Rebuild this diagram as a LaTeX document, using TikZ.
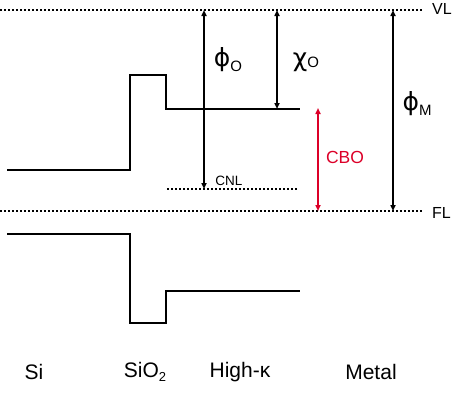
\documentclass[tikz,border=0pt]{standalone}
\usepackage{fontspec}
\setmainfont{Liberation Sans}
\newfontfamily\grk{DejaVu Sans}
\usetikzlibrary{arrows.meta}
\definecolor{cbored}{RGB}{220,0,40}
\begin{document}
\begin{tikzpicture}[x=1pt,y=-1pt,
  band/.style={line width=2pt},
  lvl/.style={line width=1.8pt, dash pattern=on 2pt off 2pt},
  dim/.style={line width=1.6pt, {Triangle[length=6pt,width=5pt]}-{Triangle[length=6pt,width=5pt]}},
  lbl/.style={inner sep=0pt, font=\fontsize{16}{16}\selectfont},
  big/.style={inner sep=0pt, font=\fontsize{21}{21}\selectfont},
  sym/.style={inner sep=0pt, font=\fontsize{25}{25}\selectfont},
  sub/.style={}]
\useasboundingbox (0,0) rectangle (452,392);
% levels
\coordinate (vlL) at (0,10); \coordinate (vlR) at (422,10);
\coordinate (flL) at (0,211); \coordinate (flR) at (422,211);
\coordinate (cnlL) at (167,189); \coordinate (cnlR) at (298,189);
\draw[lvl] (vlL) -- (vlR);
\draw[lvl] (flL) -- (flR);
\draw[lvl] (cnlL) -- (cnlR);
\node[lbl, anchor=west] (VL) at (432,9) {VL};
\node[lbl, anchor=west] (FL) at (432,213) {FL};
\node[inner sep=0pt, font=\fontsize{13.5}{13.5}\selectfont] (CNL) at (229,181) {CNL};
% bands
\draw[band] (7,170) -- (130,170) -- (130,75) -- (166,75) -- (166,109) -- (300,109);
\draw[band] (7,234) -- (130,234) -- (130,323) -- (166,323) -- (166,291) -- (300,291);
% dimension arrows
\coordinate (a1t) at (204,10); \coordinate (a1b) at (204,189);
\coordinate (a2t) at (277,10); \coordinate (a2b) at (277,109);
\coordinate (a3t) at (318,108); \coordinate (a3b) at (318,211);
\coordinate (a4t) at (393,10); \coordinate (a4b) at (393,211);
\draw[dim] (a1t) -- (a1b);
\draw[dim] (a2t) -- (a2b);
\draw[dim, cbored] (a3t) -- (a3b);
\draw[dim] (a4t) -- (a4b);
\node[sym] (phio) at (228,60) {\grk ϕ\raisebox{-0.3ex}{\fontsize{15}{15}\selectfont\rmfamily O}};
\node[sym] (chio) at (306,62) {\grk χ\raisebox{-0.1ex}{\fontsize{15}{15}\selectfont\rmfamily O}};
\node[sym] (phim) at (417,104) {\grk ϕ\raisebox{-0.3ex}{\fontsize{15}{15}\selectfont\rmfamily M}};
\node[inner sep=0pt, text=cbored, font=\fontsize{17.5}{17.5}\selectfont] (CBO) at (345,157) {CBO};
% bottom labels
\node[big] (si) at (34,372) {Si};
\node[big] (sio2) at (145,372) {SiO\raisebox{-0.4ex}{\fontsize{13}{13}\selectfont 2}};
\node[big] (hk) at (240,372) {High-κ};
\node[big] (metal) at (371,372) {Metal};
\end{tikzpicture}
\end{document}
